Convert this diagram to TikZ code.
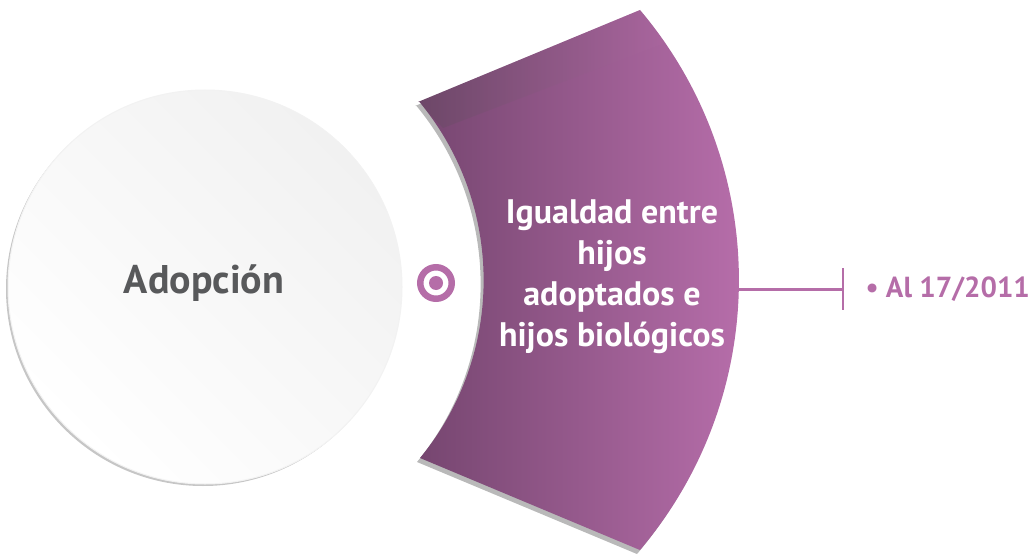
\documentclass[tikz,border=0pt]{standalone}
\usepackage{fontspec}
\setsansfont{PT Sans}
\usetikzlibrary{positioning}
\definecolor{violeta}{HTML}{B56DA8}
\definecolor{violetaclaro}{HTML}{BC71AF}
\definecolor{violetaoscuro}{HTML}{764670}
\definecolor{grisletra}{HTML}{58595B}
\newcommand\formabanda{(418,453) -- (640,545) arc[start angle=40.24, end angle=-40.24, radius=418] -- (420,97) arc[start angle=-39.4, end angle=39.6, radius=280] -- cycle}

\begin{document}
\begin{tikzpicture}[x=1pt, y=1pt]
  %
  \tikzstyle{disco} = [circle, minimum size=394pt, inner sep=0pt, top color=gray!11, bottom color=white, shading angle=-45, draw=gray!10, line width=1pt]
  \tikzstyle{sombra} = [circle, minimum size=394pt, inner sep=0pt, fill=gray!45]
  \tikzstyle{titulo} = [font=\sffamily\bfseries\fontsize{40}{42}\selectfont, text=grisletra, anchor=base]
  \tikzstyle{rotulo} = [font=\sffamily\bfseries\fontsize{34}{41}\selectfont, text=white, align=center]
  \tikzstyle{diana} = [circle, draw=violeta, line width=6.5pt, fill=white, minimum size=31.5pt, inner sep=0pt]
  \tikzstyle{ley} = [font=\sffamily\bfseries\fontsize{29}{30}\selectfont, text=violeta, anchor=base west]
  \useasboundingbox (0,0) rectangle (1035,555);
  % circulo
  \node[sombra] (fondo) at (203,266) {};
  \node[disco] (adopcion) at (205,268) {};
  \node[titulo] (texto) at (204,262) {Adopción};
  % banda
  \fill[gray!55, shift={(-3,-4)}] \formabanda;
  \shade[left color=violetaoscuro, right color=violetaclaro] \formabanda;
  \begin{scope}
    \clip \formabanda;
    \shade[left color=black!70, right color=violeta, opacity=.22] (418,453) -- (640,545) -- (672,515) -- (443,427) -- cycle;
  \end{scope}
  \node[rotulo] (igualdad) at (612,278) {Igualdad entre\\hijos\\adoptados e\\hijos biológicos};
  \node[diana] (punto) at (436,272) {};
  \fill[violeta] (punto) circle (7);
  % conector
  \coordinate (borde) at (738,266);
  \coordinate (tope) at (843,266);
  \draw[violeta, line width=3pt] (borde) -- (tope);
  \draw[violeta, line width=2pt] ([yshift=21pt]tope) -- ([yshift=-21pt]tope);
  \node[ley] (norma) at (862,258) {• Al 17/2011};
\end{tikzpicture}
\end{document}
